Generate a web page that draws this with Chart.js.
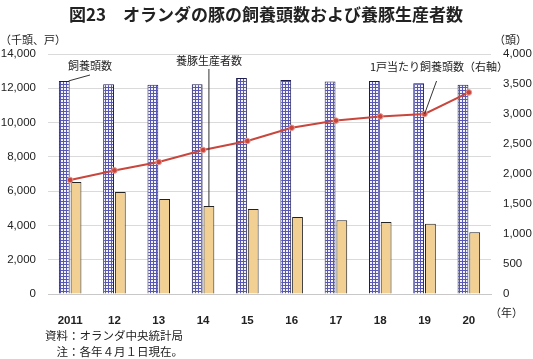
<!DOCTYPE html>
<html>
<head>
<meta charset="utf-8">
<script src="https://cdn.jsdelivr.net/npm/chart.js@4"></script>
<style>
  html, body { margin: 0; padding: 0; background: #fff; }
  #wrap { width: 533px; height: 359px; }
</style>
</head>
<body>
<div id="wrap"><canvas id="c" width="533" height="359"></canvas></div>
<script>
// data
var years = ['2011', '12', '13', '14', '15', '16', '17', '18', '19', '20'];
var pigs = [12430, 12240, 12210, 12240, 12600, 12480, 12400, 12420, 12300, 12200];   // 千頭
var farms = [6530, 5950, 5540, 5130, 4960, 4490, 4300, 4200, 4100, 3600];            // 戸
var perFarm = [1900, 2060, 2200, 2400, 2550, 2770, 2890, 2960, 3000, 3360];          // 頭
var leftTicks = [0, 14000, 2000];
var rightTicks = [0, 4000, 500];

var jp = '"Noto Sans CJK JP", sans-serif';
var num = '"Liberation Sans", Arial, sans-serif';

function gridPattern(){
  var p = document.createElement('canvas');
  p.width = 3; p.height = 3;
  var g = p.getContext('2d');
  g.fillStyle = '#f4f4fc'; g.fillRect(0, 0, 3, 3);
  g.fillStyle = '#5858b4';
  g.fillRect(0, 0, 3, 1);
  g.fillRect(0, 0, 1, 3);
  return document.getElementById('c').getContext('2d').createPattern(p, 'repeat');
}

var textPlugin = {
  id: 'texts',
  afterDraw: function(chart){
    var ctx = chart.ctx;
    ctx.save();
    ctx.fillStyle = '#222';
    ctx.textBaseline = 'middle';

    ctx.font = 'bold 17px ' + jp;
    ctx.textAlign = 'center';
    ctx.fillText('図23　オランダの豚の飼養頭数および養豚生産者数', 266, 15);

    ctx.font = '11px ' + jp;
    ctx.textAlign = 'left';
    ctx.fillText('（千頭、戸）', 0, 40);
    ctx.fillText('（頭）', 494, 40);
    ctx.fillText('（年）', 490, 313);

    ctx.font = '11.5px ' + jp;
    ctx.fillText('資料：オランダ中央統計局', 45, 336);
    ctx.fillText('　注：各年４月１日現在。', 45, 352);

    // annotations with leader lines
    ctx.font = '11px ' + jp;
    ctx.strokeStyle = '#333';
    ctx.lineWidth = 1;

    var b0 = chart.getDatasetMeta(1).data[0];
    ctx.fillText('飼養頭数', 68, 66);
    ctx.beginPath();
    ctx.moveTo(b0.x + b0.width / 2 - 1, b0.y);
    ctx.lineTo(90, 75);
    ctx.stroke();

    var b1 = chart.getDatasetMeta(2).data[3];
    ctx.textAlign = 'center';
    ctx.fillText('養豚生産者数', b1.x, 61);
    ctx.beginPath();
    ctx.moveTo(b1.x, 69);
    ctx.lineTo(b1.x, b1.y);
    ctx.stroke();

    var p9 = chart.getDatasetMeta(0).data[8];
    ctx.textAlign = 'left';
    ctx.fillText('1戸当たり飼養頭数（右軸）', 370, 67);
    ctx.beginPath();
    ctx.moveTo(p9.x, p9.y);
    ctx.lineTo(p9.x + 12, 81);
    ctx.stroke();

    ctx.restore();
  }
};

new Chart(document.getElementById('c'), {
  type: 'bar',
  data: {
    labels: years,
    datasets: [
      {
        type: 'line', label: '1戸当たり飼養頭数', data: perFarm, yAxisID: 'y1',
        borderColor: '#c8463c', borderWidth: 2, tension: 0,
        pointRadius: 2.8, pointBackgroundColor: '#c8463c', pointBorderColor: '#e89890', pointBorderWidth: 1,
        order: 0
      },
      {
        label: '飼養頭数', data: pigs, yAxisID: 'y',
        backgroundColor: gridPattern(), borderColor: '#1c1c50', borderWidth: 1,
        categoryPercentage: 0.53, barPercentage: 0.92, order: 1
      },
      {
        label: '養豚生産者数', data: farms, yAxisID: 'y',
        backgroundColor: '#f2cf92', borderColor: '#222', borderWidth: 1,
        categoryPercentage: 0.53, barPercentage: 0.92, order: 1
      }
    ]
  },
  options: {
    responsive: false,
    animation: false,
    layout: { padding: { top: 54, bottom: 35, left: 0, right: 0 } },
    plugins: { legend: { display: false }, tooltip: { enabled: false } },
    scales: {
      x: {
        grid: { display: false },
        border: { display: true, color: '#c8c8c8' },
        ticks: { color: '#222', font: { family: num, size: 11.5, weight: 'bold' }, padding: 12, maxRotation: 0 },
        afterFit: function(s){ s.height = 30; }
      },
      y: {
        position: 'left',
        min: leftTicks[0], max: leftTicks[1],
        grid: { color: '#dadada', drawTicks: false },
        border: { display: false },
        ticks: {
          stepSize: leftTicks[2], padding: 12, color: '#222',
          font: { family: num, size: 11.5 },
          callback: function(v){ return v.toLocaleString('en-US'); }
        },
        afterFit: function(s){ s.width = 48; }
      },
      y1: {
        position: 'right',
        min: rightTicks[0], max: rightTicks[1],
        grid: { display: false, drawTicks: false },
        border: { display: false },
        ticks: {
          stepSize: rightTicks[2], padding: 12, color: '#222',
          font: { family: num, size: 11.5 },
          callback: function(v){ return v.toLocaleString('en-US'); }
        },
        afterFit: function(s){ s.width = 42; }
      }
    }
  },
  plugins: [textPlugin]
});
</script>
</body>
</html>
